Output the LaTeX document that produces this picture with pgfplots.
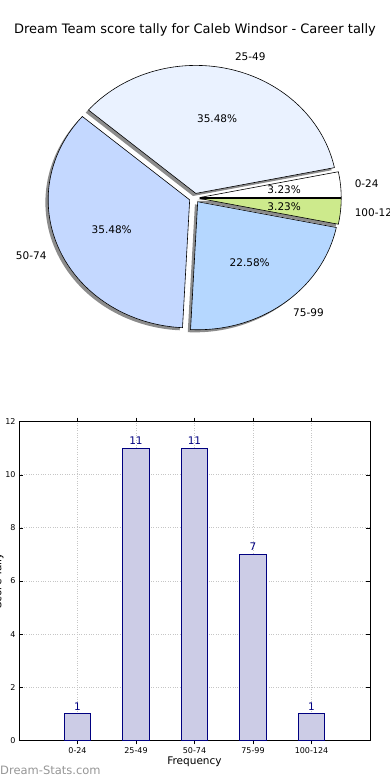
\documentclass[border=0pt]{standalone}
\usepackage{pgfplots}
\usepackage{pgfplotstable}
\pgfplotsset{compat=1.18}
\usepackage{fontspec}
\setmainfont{DejaVu Sans}

\definecolor{cA}{RGB}{255,255,255}
\definecolor{cB}{RGB}{234,242,255}
\definecolor{cC}{RGB}{196,216,255}
\definecolor{cD}{RGB}{181,215,255}
\definecolor{cE}{RGB}{205,234,140}
\definecolor{barfill}{RGB}{204,204,230}
\definecolor{navy}{RGB}{0,0,128}
\definecolor{wm}{RGB}{150,150,150}
\definecolor{shad}{RGB}{140,140,140}

\pgfplotstableread{
idx label count
0 0-24 1
1 25-49 11
2 50-74 11
3 75-99 7
4 100-124 1
}\datatable

% pie geometry (pixel units, y upwards)
\def\cx{194.5}\def\cy{582}\def\rx{141.5}\def\ry{128}\def\expl{0.037}
\def\total{0}
\pgfplotsforeachungrouped \i in {0,...,4}{%
  \pgfplotstablegetelem{\i}{count}\of\datatable
  \pgfmathsetmacro\total{\total+\pgfplotsretval}}
\def\acc{0}
\pgfplotsforeachungrouped \i in {0,...,4}{%
  \pgfplotstablegetelem{\i}{count}\of\datatable
  \let\pcnt\pgfplotsretval
  \pgfmathsetmacro\endang{\acc+360*\pcnt/\total}%
  \pgfmathsetmacro\ma{(\acc+\endang)/2}%
  \expandafter\xdef\csname sa\i\endcsname{\acc}%
  \expandafter\xdef\csname ea\i\endcsname{\endang}%
  \pgfmathsetmacro\oxx{\cx+\expl*\rx*cos(\ma)}\expandafter\xdef\csname ox\i\endcsname{\oxx}%
  \pgfmathsetmacro\oyy{\cy+\expl*\ry*sin(\ma)}\expandafter\xdef\csname oy\i\endcsname{\oyy}%
  \pgfmathsetmacro\tmp{\oxx+0.6*\rx*cos(\ma)}\expandafter\xdef\csname px\i\endcsname{\tmp}%
  \pgfmathsetmacro\tmp{\oyy+0.6*\ry*sin(\ma)}\expandafter\xdef\csname py\i\endcsname{\tmp}%
  \pgfmathsetmacro\tmp{\oxx+1.1*\rx*cos(\ma)}\expandafter\xdef\csname lx\i\endcsname{\tmp}%
  \pgfmathsetmacro\tmp{\oyy+1.1*\ry*sin(\ma)}\expandafter\xdef\csname ly\i\endcsname{\tmp}%
  \pgfmathsetmacro\tmp{100*\pcnt/\total}\expandafter\xdef\csname pct\i\endcsname{\tmp}%
  \pgfmathtruncatemacro\sgn{cos(\ma)>0 ? 1 : 0}%
  \ifnum\sgn=1 \expandafter\xdef\csname an\i\endcsname{west}\else\expandafter\xdef\csname an\i\endcsname{east}\fi
  \xdef\acc{\endang}%
}

\newcommand\shadowwedge[1]{%
  \edef\temp{\noexpand\addplot[fill=shad, draw=none, domain=\csname sa#1\endcsname:\csname ea#1\endcsname, samples=90, variable=\noexpand\t]
  ({\csname ox#1\endcsname-2.8+\rx*cos(\noexpand\t)},{\csname oy#1\endcsname-2.6+\ry*sin(\noexpand\t)}) -- (axis cs:\csname ox#1\endcsname-2.8,\csname oy#1\endcsname-2.6) -- cycle;}\temp}
\newcommand\piewedge[2]{%
  \edef\temp{\noexpand\addplot[fill=#2, draw=black, line width=0.6pt, line join=miter, domain=\csname sa#1\endcsname:\csname ea#1\endcsname, samples=90, variable=\noexpand\t]
  ({\csname ox#1\endcsname+\rx*cos(\noexpand\t)},{\csname oy#1\endcsname+\ry*sin(\noexpand\t)}) -- (axis cs:\csname ox#1\endcsname,\csname oy#1\endcsname) -- cycle;}\temp}
\newcommand\pielabels[2]{%
  \node[font=\fontsize{10.5}{12}\selectfont] at (axis cs:\csname px#1\endcsname,\csname py#1\endcsname) {\pgfmathprintnumber[fixed,fixed zerofill,precision=2,assume math mode=true]{\csname pct#1\endcsname}\%};
  \node[font=\fontsize{10.5}{12}\selectfont, anchor=\csname an#1\endcsname, inner sep=0pt] at (axis cs:\csname lx#1\endcsname,\csname ly#1\endcsname) {#2};}

\begin{document}
\begin{tikzpicture}[x=1pt,y=1pt]
\useasboundingbox (0,0) rectangle (390pt,780pt);
\clip (0,0) rectangle (390pt,780pt);
\begin{axis}[at={(0pt,0pt)}, anchor=south west, scale only axis, width=390pt, height=780pt,
  xmin=0, xmax=390, ymin=0, ymax=780, hide axis, clip=false]
  \shadowwedge{0}\shadowwedge{1}\shadowwedge{2}\shadowwedge{3}\shadowwedge{4}
  \piewedge{0}{cA}\piewedge{1}{cB}\piewedge{2}{cC}\piewedge{3}{cD}\piewedge{4}{cE}
  \pielabels{0}{0-24}\pielabels{1}{25-49}\pielabels{2}{50-74}\pielabels{3}{75-99}\pielabels{4}{100-124}
  \node[font=\fontsize{13}{15}\selectfont] at (axis cs:195,750) {Dream Team score tally for Caleb Windsor - Career tally};
\end{axis}
\begin{axis}[at={(19pt,39.7pt)}, anchor=south west, scale only axis, width=351pt, height=318.6pt,
  xmin=-1, xmax=5, ymin=0, ymax=12,
  ytick={0,2,...,12}, xtick={0,...,4}, xticklabels from table={\datatable}{label},
  /pgf/number format/assume math mode=true,
  tick label style={font=\fontsize{8}{9}\selectfont},
  ybar, bar width=0.45,
  grid=major, major grid style={dotted, gray!45, line width=0.8pt},
  major tick length=4pt, tick style={black, line width=0.5pt},
  axis line style={line width=0.8pt},
  xlabel={Frequency}, xlabel style={font=\fontsize{10.5}{12}\selectfont, yshift=4pt},
  ylabel={Score Tally},
  every axis y label/.style={at={(axis description cs:-0.0584,0.5)}, rotate=90, anchor=center, font=\fontsize{10.5}{12}\selectfont},
  nodes near coords,
  nodes near coords style={font=\fontsize{10.5}{12}\selectfont, text=navy},
]
\addplot[fill=barfill, draw=navy, line width=0.8pt] table[x=idx, y=count] {\datatable};
\end{axis}
\node[anchor=west, inner sep=0pt, text=wm, font=\fontsize{11.5}{13}\selectfont] at (0pt,10pt) {Dream-Stats.com};
\end{tikzpicture}
\end{document}
